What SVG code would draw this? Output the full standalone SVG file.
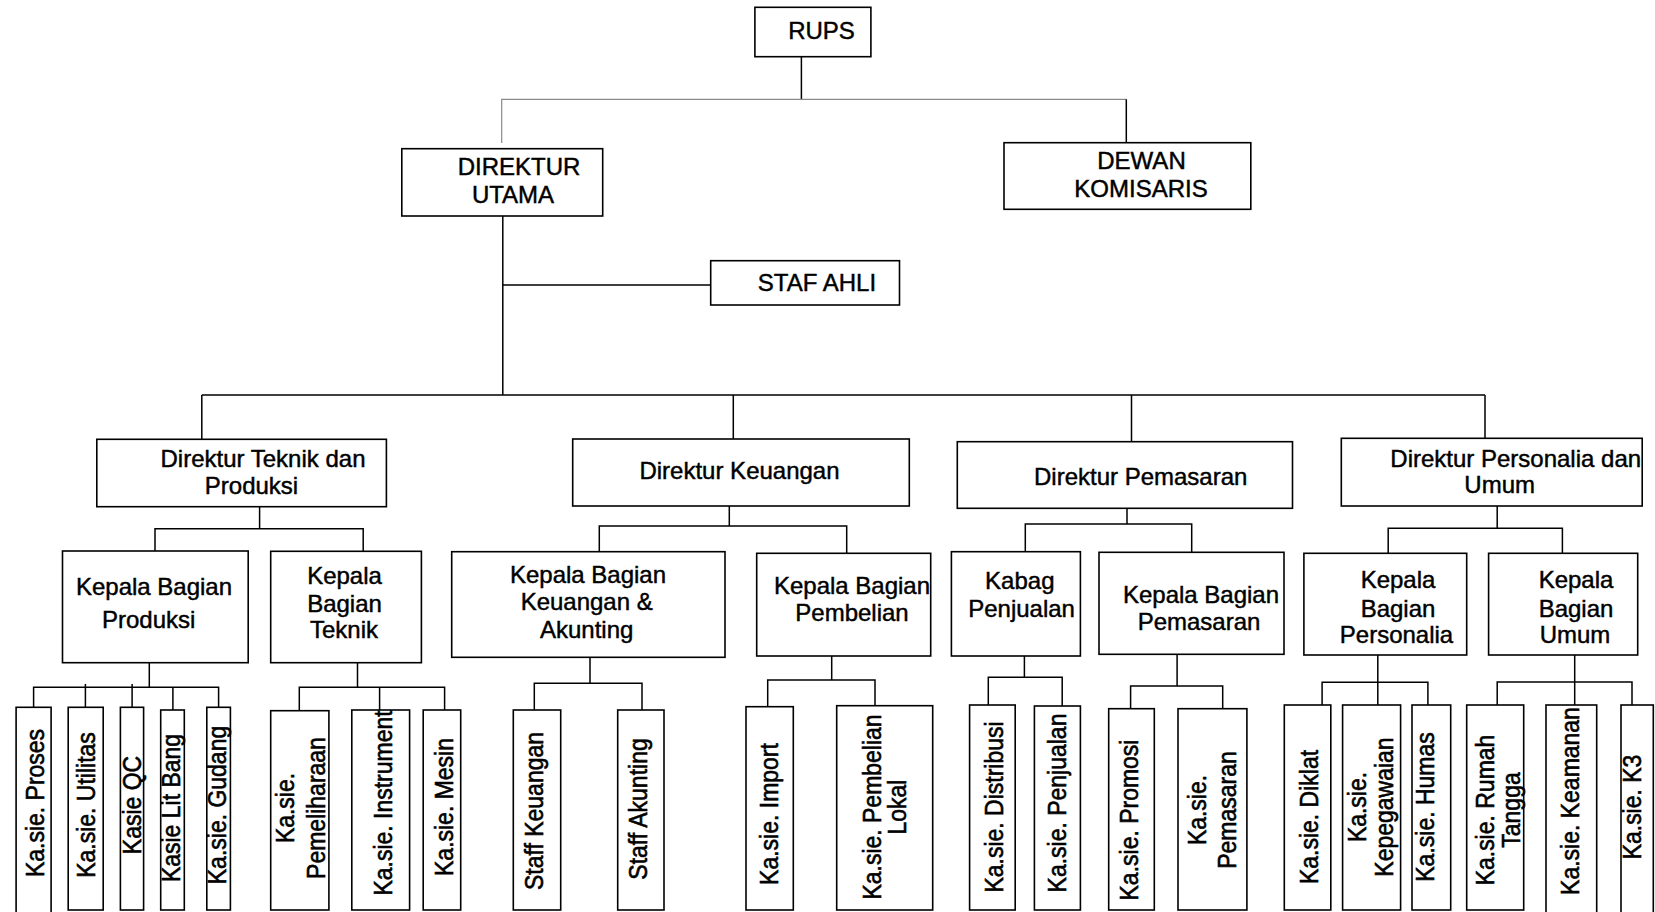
<svg xmlns="http://www.w3.org/2000/svg" width="1655" height="912" viewBox="0 0 1655 912">
<style>
.box{fill:#fff;stroke:#000;stroke-width:1.6}
.ln{fill:none;stroke:#000;stroke-width:1.5}
.gl{fill:none;stroke:#8a8a8a;stroke-width:1.2}
text{font-family:"Liberation Sans",Arial,sans-serif;fill:#000;stroke:#000;stroke-width:0.45;text-anchor:middle}
.t{font-size:24px}
.v{font-size:23px;stroke-width:0.55}
</style>
<rect x="0" y="0" width="1655" height="912" fill="#fff"/>
<g id="connectors">
<path class="ln" d="M801.4,56.7V99.3"/>
<path class="gl" d="M501.7,143V99.3H1126.3"/>
<path class="ln" d="M1126.3,99.3V143"/>
<path class="ln" d="M502.8,216V395M502.8,285H710.7"/>
<path class="ln" d="M201.8,395H1485M201.8,395V439.3M733.3,395V439M1131.5,395V441.7M1485,395V438.3"/>
<path class="ln" d="M259.6,506.7V528.7M155,551V528.7H363.2V551"/>
<path class="ln" d="M729.3,506V526M599.3,551.7V526H846.7V553.3"/>
<path class="ln" d="M1127,508.3V524M1025.3,551.7V524H1191.7V552.3"/>
<path class="ln" d="M1497.2,506V528.3M1388.2,553.3V528.3H1562.4V553.3"/>
<path class="ln" d="M149.3,662.7V687.3M33.6,707.3V687.3H218.6V707.3M85.4,684V707.3M132.1,684V707.3M172.9,687.3V710"/>
<path class="ln" d="M357.5,662.7V687.3M299.3,710.7V687.3H444.6V710M379.6,687.3V710"/>
<path class="ln" d="M590,657.3V683.3M534.3,710V683.3H642V710"/>
<path class="ln" d="M831.7,656V680M767.7,706.7V680H875V705.7"/>
<path class="ln" d="M1024.4,656V677.3M988.3,705V677.3H1062.2V706"/>
<path class="ln" d="M1177.1,654.3V686M1130.6,708.7V686H1222.7V708.7"/>
<path class="ln" d="M1377.8,655V705M1322.1,705V682.3H1427.9V705"/>
<path class="ln" d="M1574.7,655V705M1497.2,705V682H1632V705"/>
</g>
<g id="rups"><rect class="box" x="754.9" y="7.3" width="116" height="49.4"/><text class="t" x="821.5" y="39.3">RUPS</text></g>
<g id="direktur-utama"><rect class="box" x="401.8" y="148.7" width="200.9" height="67.3"/><text class="t" x="519" y="175">DIREKTUR</text><text class="t" x="513" y="203">UTAMA</text></g>
<g id="dewan-komisaris"><rect class="box" x="1004" y="142.7" width="246.8" height="66.6"/><text class="t" x="1141.5" y="169">DEWAN</text><text class="t" x="1141" y="197">KOMISARIS</text></g>
<g id="staf-ahli"><rect class="box" x="710.7" y="260.7" width="188.8" height="44.3"/><text class="t" x="817" y="291">STAF AHLI</text></g>
<g id="dir-teknik"><rect class="box" x="96.8" y="439.3" width="289.6" height="67.4"/><text class="t" x="263" y="467">Direktur Teknik dan</text><text class="t" x="251.5" y="494">Produksi</text></g>
<g id="dir-keuangan"><rect class="box" x="572.7" y="439" width="336.6" height="67"/><text class="t" x="739.5" y="479">Direktur Keuangan</text></g>
<g id="dir-pemasaran"><rect class="box" x="957.3" y="441.7" width="335.2" height="66.6"/><text class="t" x="1140.7" y="485">Direktur Pemasaran</text></g>
<g id="dir-personalia"><rect class="box" x="1341.3" y="438.3" width="300.9" height="67.7"/><text class="t" x="1515.7" y="466.7">Direktur Personalia dan</text><text class="t" x="1499.7" y="493.3">Umum</text></g>
<g id="kb-produksi"><rect class="box" x="62.5" y="551" width="185.7" height="111.7"/><text class="t" x="154" y="595">Kepala Bagian</text><text class="t" x="148.7" y="628">Produksi</text></g>
<g id="kb-teknik"><rect class="box" x="270.7" y="551.3" width="150.7" height="111.4"/><text class="t" x="344.5" y="584">Kepala</text><text class="t" x="344.5" y="611.7">Bagian</text><text class="t" x="344" y="638.3">Teknik</text></g>
<g id="kb-keuangan"><rect class="box" x="451.7" y="551.7" width="273.3" height="105.6"/><text class="t" x="588" y="582.7">Kepala Bagian</text><text class="t" x="586.7" y="610">Keuangan &amp;</text><text class="t" x="586.7" y="638.3">Akunting</text></g>
<g id="kb-pembelian"><rect class="box" x="756.7" y="553.3" width="174" height="102.7"/><text class="t" x="852" y="594">Kepala Bagian</text><text class="t" x="852" y="620.7">Pembelian</text></g>
<g id="kabag-penjualan"><rect class="box" x="951.4" y="551.7" width="129" height="104.3"/><text class="t" x="1019.8" y="589.3">Kabag</text><text class="t" x="1021.6" y="616.7">Penjualan</text></g>
<g id="kb-pemasaran"><rect class="box" x="1099" y="552.3" width="185" height="102"/><text class="t" x="1201" y="603.3">Kepala Bagian</text><text class="t" x="1199" y="630">Pemasaran</text></g>
<g id="kb-personalia"><rect class="box" x="1303.9" y="553.3" width="162.8" height="101.7"/><text class="t" x="1398" y="588.3">Kepala</text><text class="t" x="1398" y="616.7">Bagian</text><text class="t" x="1396.5" y="642.7">Personalia</text></g>
<g id="kb-umum"><rect class="box" x="1488.6" y="553.3" width="149.1" height="101.7"/><text class="t" x="1576" y="588.3">Kepala</text><text class="t" x="1576" y="616.7">Bagian</text><text class="t" x="1575" y="642.7">Umum</text></g>
<g id="ks-proses"><rect class="box" x="16.1" y="707.3" width="35" height="210"/><text class="v" transform="translate(44,803) scale(1.1,1) rotate(-90)">Ka.sie. Proses</text></g>
<g id="ks-utilitas"><rect class="box" x="68.2" y="707.3" width="35" height="202.7"/><text class="v" transform="translate(95,805) scale(1.1,1) rotate(-90)">Ka.sie. Utilitas</text></g>
<g id="ks-qc"><rect class="box" x="120.4" y="707.3" width="23.2" height="202.7"/><text class="v" transform="translate(141,805) scale(1.1,1) rotate(-90)">Kasie QC</text></g>
<g id="ks-litbang"><rect class="box" x="160.7" y="710" width="23.6" height="200"/><text class="v" transform="translate(180,808) scale(1.1,1) rotate(-90)">Kasie Lit Bang</text></g>
<g id="ks-gudang"><rect class="box" x="206.8" y="707.3" width="23.6" height="202.7"/><text class="v" transform="translate(226,805) scale(1.1,1) rotate(-90)">Ka.sie. Gudang</text></g>
<g id="ks-pemeliharaan"><rect class="box" x="270.7" y="710.7" width="58.2" height="199.3"/><text class="v" transform="translate(294,808) scale(1.1,1) rotate(-90)"><tspan x="0" dy="0">Ka.sie.</tspan><tspan x="0" dy="28">Pemeliharaan</tspan></text></g>
<g id="ks-instrument"><rect class="box" x="351.8" y="710" width="57.8" height="200"/><text class="v" transform="translate(392,803) scale(1.1,1) rotate(-90)">Ka.sie. Instrument</text></g>
<g id="ks-mesin"><rect class="box" x="423.2" y="710" width="37.5" height="200"/><text class="v" transform="translate(453,807) scale(1.1,1) rotate(-90)">Ka.sie. Mesin</text></g>
<g id="staff-keuangan"><rect class="box" x="513.3" y="710" width="47.4" height="200"/><text class="v" transform="translate(543,811) scale(1.1,1) rotate(-90)">Staff Keuangan</text></g>
<g id="staff-akunting"><rect class="box" x="617.7" y="710" width="46.3" height="200"/><text class="v" transform="translate(647,809) scale(1.1,1) rotate(-90)">Staff Akunting</text></g>
<g id="ks-import"><rect class="box" x="746" y="706.7" width="47.3" height="203.3"/><text class="v" transform="translate(778,814) scale(1.1,1) rotate(-90)">Ka.sie. Import</text></g>
<g id="ks-lokal"><rect class="box" x="836.7" y="705.7" width="96" height="204.3"/><text class="v" transform="translate(881,807) scale(1.1,1) rotate(-90)"><tspan x="0" dy="0">Ka.sie. Pembelian</tspan><tspan x="0" dy="23">Lokal</tspan></text></g>
<g id="ks-distribusi"><rect class="box" x="969.6" y="705" width="45.6" height="205"/><text class="v" transform="translate(1003,807) scale(1.1,1) rotate(-90)">Ka.sie. Distribusi</text></g>
<g id="ks-penjualan"><rect class="box" x="1034.4" y="706" width="46" height="204"/><text class="v" transform="translate(1066,803) scale(1.1,1) rotate(-90)">Ka.sie. Penjualan</text></g>
<g id="ks-promosi"><rect class="box" x="1108.7" y="708.7" width="45.6" height="201.3"/><text class="v" transform="translate(1138,820) scale(1.1,1) rotate(-90)">Ka.sie. Promosi</text></g>
<g id="ks-pemasaran"><rect class="box" x="1178" y="708.7" width="68.9" height="201.3"/><text class="v" transform="translate(1206,810) scale(1.1,1) rotate(-90)"><tspan x="0" dy="0">Ka.sie.</tspan><tspan x="0" dy="27">Pemasaran</tspan></text></g>
<g id="ks-diklat"><rect class="box" x="1284.3" y="705" width="46.5" height="205"/><text class="v" transform="translate(1318,817) scale(1.1,1) rotate(-90)">Ka.sie. Diklat</text></g>
<g id="ks-kepegawaian"><rect class="box" x="1342.6" y="705" width="58" height="205"/><text class="v" transform="translate(1366,807) scale(1.1,1) rotate(-90)"><tspan x="0" dy="0">Ka.sie.</tspan><tspan x="0" dy="25">Kepegawaian</tspan></text></g>
<g id="ks-humas"><rect class="box" x="1412" y="705" width="38.7" height="205"/><text class="v" transform="translate(1434,807) scale(1.1,1) rotate(-90)">Ka.sie. Humas</text></g>
<g id="ks-rumahtangga"><rect class="box" x="1466.7" y="705" width="57" height="205"/><text class="v" transform="translate(1494,810) scale(1.1,1) rotate(-90)"><tspan x="0" dy="0">Ka.sie. Rumah</tspan><tspan x="0" dy="24">Tangga</tspan></text></g>
<g id="ks-keamanan"><rect class="box" x="1546" y="705" width="50.7" height="212"/><text class="v" transform="translate(1579,801) scale(1.1,1) rotate(-90)">Ka.sie. Keamanan</text></g>
<g id="ks-k3"><rect class="box" x="1621" y="705" width="32.3" height="212"/><text class="v" transform="translate(1641,807) scale(1.1,1) rotate(-90)">Ka.sie. K3</text></g>
</svg>
